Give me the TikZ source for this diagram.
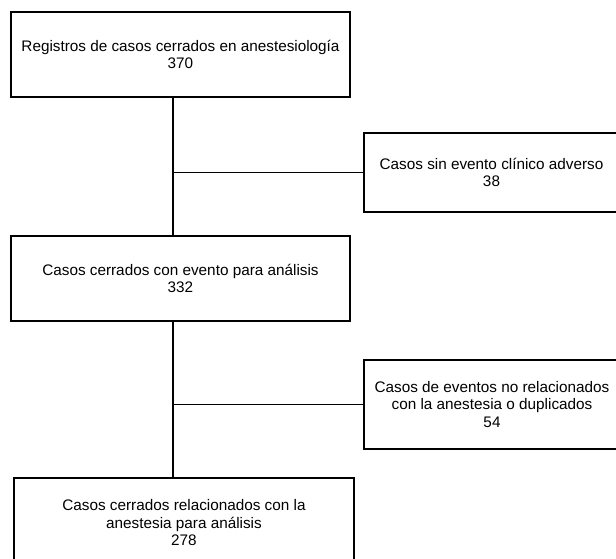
\documentclass[tikz,border=0pt]{standalone}
\usepackage{fontspec}
\setmainfont{Liberation Sans}
\usepackage{tikz}

\begin{document}
\begin{tikzpicture}[x=1pt,y=-1pt]
\useasboundingbox (0,0) rectangle (616,558);
\clip (0,0) rectangle (616,558);

\begin{scope}[every node/.style={rectangle,draw,line width=1.1pt,align=center,inner sep=0pt,
  font=\fontsize{15.3}{17.5}\selectfont}]
\node [minimum width=339pt, minimum height=85pt] (registros) at (180.5,54.5) {Registros de casos cerrados en anestesiología\\370};
\node [minimum width=255pt, minimum height=79pt] (sinevento) at (491.5,172.5) {Casos sin evento clínico adverso\\38};
\node [minimum width=339pt, minimum height=85pt] (conevento) at (180.5,278.5) {Casos cerrados con evento para análisis\\332};
\node [minimum width=256pt, minimum height=89pt] (norelac) at (492,404.5) {Casos de eventos no relacionados\\con la anestesia o duplicados\\54};
\node [minimum width=340pt, minimum height=90pt] (final) at (184,523) {Casos cerrados relacionados con la\\anestesia para análisis\\278};
\end{scope}

\coordinate (j1) at (173,172.5);
\coordinate (j2) at (173,404.5);

\begin{scope}[line width=1.1pt]
\draw (j1 |- registros.south) -- (j1 |- conevento.north);
\draw (j1) -- (sinevento.west);
\draw (j2 |- conevento.south) -- (j2 |- final.north);
\draw (j2) -- (norelac.west);
\end{scope}
\end{tikzpicture}
\end{document}
